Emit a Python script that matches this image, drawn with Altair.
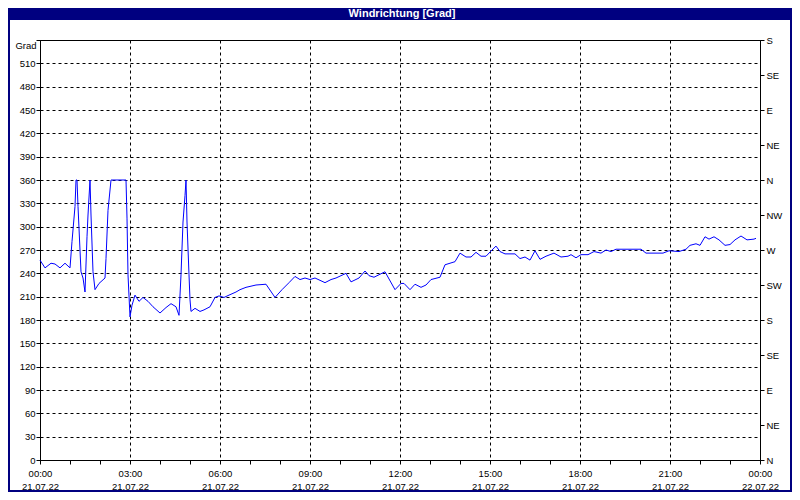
import json
import altair as alt
import pandas as pd

# ---- data ----
times = ["00:00","00:10","00:22","00:30","00:40","00:50","01:00","01:04","01:10","01:12",
         "01:14","01:16","01:22","01:26","01:30","01:34","01:36","01:40","01:42","01:46",
         "01:50","01:58","02:10","02:12","02:16","02:22","02:52","02:54","02:56","03:00",
         "03:04","03:10","03:18","03:26","03:36","03:46","04:00","04:12","04:22","04:32",
         "04:38","04:42","04:46","04:50","04:52","04:54","04:58","05:00","05:02","05:10",
         "05:20","05:28","05:40","05:50","05:58","06:08","06:18","06:32","06:40","06:52",
         "07:12","07:32","07:50","08:04","08:18","08:30","08:40","08:50","09:00","09:10",
         "09:30","09:42","09:52","10:12","10:22","10:38","10:50","10:58","11:08","11:30",
         "11:50","12:02","12:08","12:20","12:30","12:42","12:52","13:02","13:20","13:30",
         "13:40","13:50","14:00","14:12","14:22","14:32","14:42","14:52","15:04","15:12",
         "15:20","15:30","15:50","16:00","16:10","16:20","16:30","16:40","16:52","17:08",
         "17:22","17:36","17:42","17:52","18:02","18:16","18:28","18:42","18:52","19:02",
         "19:12","19:38","20:02","20:12","20:46","20:58","21:18","21:32","21:40","21:52",
         "22:00","22:10","22:18","22:28","22:38","22:50","23:00","23:10","23:22","23:34",
         "23:48","23:52"]
direction = [257,247,253,252,247,253,247,281,326,360,
             360,326,242,234,216,287,315,360,315,242,
             219,227,234,259,321,360,360,311,238,184,
             199,212,204,209,204,197,189,196,201,197,
             186,238,306,340,360,306,238,206,191,195,
             191,193,197,209,211,209,212,216,219,222,
             225,226,209,219,228,236,232,234,232,234,
             228,232,234,240,229,234,243,237,235,242,
             219,227,227,219,226,222,225,232,235,251,
             253,255,266,261,261,267,262,262,270,275,
             268,265,265,259,261,257,269,258,262,266,
             261,262,264,260,264,264,268,266,270,268,
             271,271,271,266,266,269,268,271,276,278,
             276,287,284,287,283,276,277,283,288,283,
             284,285]

title_text = "Windrichtung [Grad]"
y_label = "Grad"
grad_ticks = list(range(0, 541, 30))
compass_values = list(range(0, 541, 45))
compass_labels = ["N", "NE", "E", "SE", "S", "SW", "W", "NW", "N", "NE", "E", "SE", "S"]
hour_ticks = list(range(0, 1441, 60))
date_start = "21.07.22"
date_end = "22.07.22"

minutes = [int(t[:2]) * 60 + int(t[3:]) for t in times]
df = pd.DataFrame({"min": minutes, "deg": direction})

FONT = "Liberation Sans"
FS = 9.5
NAVY = "#000080"

x_label_expr = (
    "datum.value % 180 === 0 ? "
    "[(floor(datum.value/60) % 24 < 10 ? '0' : '') + (floor(datum.value/60) % 24) + ':00', "
    f"datum.value >= 1440 ? '{date_end}' : '{date_start}'] : ''"
)


def x_enc():
    return alt.X(
        "min:Q",
        scale=alt.Scale(domain=[0, 1440], nice=False, zero=False),
        axis=alt.Axis(
            values=hour_ticks, tickCount=100, grid=True, gridColor="black", gridDash=[3, 3],
            gridOpacity={"condition": {"test": "datum.value % 180 === 0", "value": 1}, "value": 0},
            tickSize=4, tickColor="black", domainColor="black",
            labelExpr=x_label_expr, labelFlush=False, labelOverlap=False, labelBound=False,
            labelPadding=4, labelLineHeight=13, labelFont=FONT, labelFontSize=FS,
            labelColor="black", title=None,
        ),
    )


line = alt.Chart(df).mark_line(color="#0000ff", strokeWidth=1).encode(
    x=x_enc(),
    y=alt.Y(
        "deg:Q",
        scale=alt.Scale(domain=[0, 540], nice=False),
        axis=alt.Axis(
            orient="left", values=grad_ticks, tickCount=100, grid=True, gridColor="black",
            gridDash=[3, 3], tickSize=4, tickColor="black", domainColor="black",
            labelExpr="datum.value >= 540 ? '' : datum.label", labelOverlap=False,
            labelFont=FONT, labelFontSize=FS, labelColor="black", labelPadding=1,
            title=y_label, titleAngle=0, titleX=-4, titleY=5, titleAlign="right",
            titleBaseline="middle", titleFont=FONT, titleFontSize=FS,
            titleFontWeight="normal", titleColor="black",
        ),
    ),
)

compass_expr = json.dumps(compass_labels).replace('"', "'") + "[round(datum.value/45)]"

right = alt.Chart(df).mark_line(opacity=0).encode(
    x=x_enc(),
    y=alt.Y(
        "deg:Q",
        scale=alt.Scale(domain=[0, 540], nice=False),
        axis=alt.Axis(
            orient="right", values=compass_values, tickCount=100, grid=False,
            tickSize=4, tickColor="black", domainColor="black", labelOverlap=False,
            labelExpr=compass_expr, labelFont=FONT, labelFontSize=FS,
            labelColor="black", labelPadding=2, title=None,
        ),
    ),
)

one = alt.Data(values=[{}])
bar = alt.Chart(one).mark_rect(color=NAVY).encode(
    x=alt.value(-40), x2=alt.value(800), y=alt.value(-40), y2=alt.value(-20)
)
title = alt.Chart(one).mark_text(
    text=title_text, color="white", font=FONT, fontSize=11, fontWeight="bold",
    align="center", baseline="middle"
).encode(x=alt.value(362), y=alt.value(-26))
border = alt.Chart(one).mark_rect(filled=False, stroke=NAVY, strokeWidth=2).encode(
    x=alt.value(-31), x2=alt.value(751), y=alt.value(-40), y2=alt.value(451)
)

chart = (
    alt.layer(line, right, bar, title, border)
    .resolve_scale(y="independent")
    .resolve_axis(y="independent")
    .properties(
        width=720, height=420,
        padding={"left": 32, "top": 32, "right": 32, "bottom": 32},
        autosize=alt.AutoSizeParams(type="none"),
        background="white",
    )
    .configure_view(stroke="black", strokeWidth=1)
)

chart.save("out.html", embed_options={"renderer": "svg", "actions": False})
